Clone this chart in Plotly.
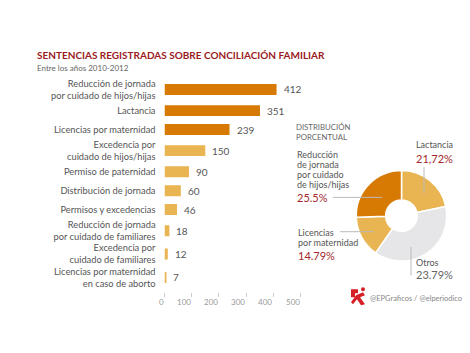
import plotly.graph_objects as go

W, H = 470, 353

# ---- data ----
categories = [
    "Reducción de jornada<br>por cuidado de hijos/hijas",
    "Lactancia",
    "Licencias por maternidad",
    "Excedencia por<br>cuidado de hijos/hijas",
    "Permiso de paternidad",
    "Distribución de jornada",
    "Permisos y excedencias",
    "Reducción de jornada<br>por cuidado de familiares",
    "Excedencia por<br>cuidado de familiares",
    "Licencias por maternidad<br>en caso de aborto",
]
values = [412, 351, 239, 150, 90, 60, 46, 18, 12, 7]
x_ticks = [0, 100, 200, 300, 400, 500]

pie_labels = ["Lactancia", "Otros", "Licencias por maternidad",
              "Reducción de jornada por cuidado de hijos/hijas"]
pie_values = [21.72, 37.99, 14.79, 25.5]  # slice sizes as drawn
pie_texts = ["21,72%", "23.79%", "14.79%", "25.5%"]

DARK = "#d67a03"
LIGHT = "#e8b552"
GRAY = "#e6e6e8"
RED = "#9b1b1e"
PCT_RED = "#a3282c"
TXT = "#555555"
FONT = "Lato"

def py(px):
    return 1 - px / H

def px_x(px):
    return px / W

# row positions: spacing depends on number of label lines
lines = [c.count("<br>") + 1 for c in categories]
pos = [0.0]
for i in range(1, len(categories)):
    pos.append(pos[-1] + 14.5 + 2.25 * (lines[i - 1] + lines[i]))

bar_colors = [DARK if i < 3 else LIGHT for i in range(len(values))]

fig = go.Figure()
fig.add_trace(go.Bar(
    x=values, y=pos, orientation="h", width=11,
    marker=dict(color=bar_colors, line=dict(width=0)),
    hoverinfo="skip", showlegend=False,
    xaxis="x", yaxis="y",
))

fig.add_trace(go.Pie(
    values=pie_values, labels=pie_labels, sort=False, direction="clockwise",
    rotation=0, hole=0.35, textinfo="none", hoverinfo="skip",
    marker=dict(colors=[LIGHT, GRAY, LIGHT, DARK], line=dict(color="white", width=1.5)),
    domain=dict(x=[px_x(356), px_x(447)], y=[py(260.5), py(169.5)]),
    showlegend=False,
))

y_top_px, y_bot_px, first_px = 78, 292, 88
annotations = []
# value labels
for v, p in zip(values, pos):
    annotations.append(dict(x=v, y=p, xref="x", yref="y", text=str(v), showarrow=False,
                            xanchor="left", xshift=5, font=dict(family=FONT, size=10, color=TXT)))
# x tick labels (right aligned to tick)
for t in x_ticks:
    annotations.append(dict(x=t, y=py(301.5), xref="x", yref="paper", text=str(t), showarrow=False,
                            xanchor="right", yanchor="middle", xshift=1,
                            font=dict(family=FONT, size=8, color="#999999")))

def ann(text, x, y, size, color, bold=False, step=None):
    parts = text.split("<br>")
    step = step if step is not None else size * 1.2
    for k, part in enumerate(parts):
        annotations.append(dict(x=px_x(x), y=py(y + k * step), xref="paper", yref="paper",
                                text=part, showarrow=False, xanchor="left", yanchor="middle",
                                font=dict(family=FONT, size=size, color=color,
                                          weight="bold" if bold else "normal")))

ann("SENTENCIAS REGISTRADAS SOBRE CONCILIACIÓN FAMILIAR", 35, 53, 10, RED, bold=True)
ann("Entre los años 2010-2012", 35, 66, 8, "#666666")
ann("DISTRIBUCIÓN<br>PORCENTUAL", 294, 125.5, 7.8, "#666666", step=9.8)
ann("Reducción<br>de jornada<br>por cuidado<br>de hijos/hijas", 295, 153.3, 9, TXT, step=10.2)
ann(pie_texts[3], 295, 196.5, 11, PCT_RED)
ann(pie_labels[0], 414, 143.5, 9, TXT)
ann(pie_texts[0], 414, 157, 11, PCT_RED)
ann("Licencias<br>por maternidad", 296, 231.5, 9, TXT, step=10.2)
ann(pie_texts[2], 296, 255, 11, PCT_RED)
ann(pie_labels[1], 414, 262, 9, TXT)
ann(pie_texts[1], 414, 274, 11, "#666666")
ann("@EPGraficos / @elperiodico", 368, 298.5, 7.5, "#888888")

LC = "#bbbbbb"
def P(pts):
    return "M " + " L ".join(f"{px_x(a)},{py(b)}" for a, b in pts) + " Z"

shapes = [
    dict(type="line", xref="paper", yref="paper", x0=px_x(333), x1=px_x(382), y0=py(196.5), y1=py(196.5), line=dict(color=LC, width=1)),
    dict(type="line", xref="paper", yref="paper", x0=px_x(424), x1=px_x(424), y0=py(166), y1=py(192), line=dict(color=LC, width=1)),
    dict(type="line", xref="paper", yref="paper", x0=px_x(340), x1=px_x(374), y0=py(231), y1=py(231), line=dict(color=LC, width=1)),
    dict(type="line", xref="paper", yref="paper", x0=px_x(411), x1=px_x(411), y0=py(246.5), y1=py(275), line=dict(color=LC, width=1)),
    # logo (approximation)
    dict(type="path", xref="paper", yref="paper",
         path=P([(351, 289), (358, 289), (358, 293), (355, 293), (355, 297), (351, 297)]),
         fillcolor="#d42027", line=dict(width=0)),
    dict(type="path", xref="paper", yref="paper",
         path=P([(356, 295), (363, 292), (365, 295), (360, 297), (365, 304), (361, 305), (357, 299), (353, 304), (351, 302)]),
         fillcolor="#d42027", line=dict(width=0)),
    dict(type="circle", xref="paper", yref="paper", x0=px_x(361), x1=px_x(365), y0=py(287), y1=py(291),
         fillcolor="#d42027", line=dict(width=0)),
]

fig.update_layout(
    width=W, height=H, margin=dict(l=0, r=0, t=0, b=0),
    paper_bgcolor="white", plot_bgcolor="white",
    font=dict(family=FONT, color=TXT),
    xaxis=dict(domain=[px_x(164.5), px_x(300.5)], range=[0, 500], tickvals=x_ticks,
               showticklabels=False, ticks="outside", ticklen=4, tickcolor="#cccccc",
               showgrid=False, zeroline=False, showline=False, fixedrange=True),
    yaxis=dict(domain=[py(y_bot_px), py(y_top_px)],
               range=[y_bot_px - first_px, y_top_px - first_px],
               tickvals=pos, ticktext=categories, ticks="", ticklabelstandoff=8,
               tickfont=dict(family=FONT, size=9.3, color=TXT),
               showgrid=False, zeroline=False, showline=False, fixedrange=True),
    annotations=annotations, shapes=shapes,
)

fig.write_html("out.html")
